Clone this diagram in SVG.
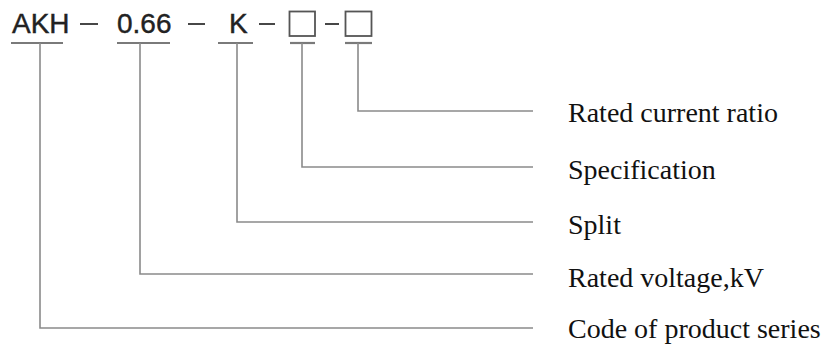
<svg xmlns="http://www.w3.org/2000/svg" width="823" height="345" viewBox="0 0 823 345">
<style>
.code{font-family:"Liberation Sans",Arial,sans-serif;font-size:28px;fill:#222;stroke:#222;stroke-width:0.4}
.lbl{font-family:"Liberation Serif","Times New Roman",serif;font-size:28px;fill:#111}
.ul{stroke:#7a7a7a;stroke-width:2.2;fill:none}
.conn{stroke:#8a8a8a;stroke-width:1.6;fill:none}
.box{stroke:#555;stroke-width:1.8;fill:none}
.dash{stroke:#333;stroke-width:1.8}
</style>
<rect width="823" height="345" fill="#fff"/>
<g id="code">
<text class="code" x="12" y="33">AKH</text>
<line class="dash" x1="80" y1="24" x2="98" y2="24"/>
<text class="code" x="117" y="33">0.66</text>
<line class="dash" x1="188" y1="24" x2="205" y2="24"/>
<text class="code" x="229" y="33">K</text>
<line class="dash" x1="259" y1="24" x2="275" y2="24"/>
<rect class="box" x="289.5" y="11.5" width="25.5" height="24.5"/>
<line class="dash" x1="325" y1="24" x2="339" y2="24"/>
<rect class="box" x="345.5" y="11.5" width="26" height="24.5"/>
</g>
<g id="underlines">
<line class="ul" x1="11" y1="43" x2="63" y2="43"/>
<line class="ul" x1="117" y1="43" x2="170" y2="43"/>
<line class="ul" x1="218" y1="43" x2="253" y2="43"/>
<line class="ul" x1="290" y1="43" x2="315" y2="43"/>
<line class="ul" x1="345" y1="43" x2="372" y2="43"/>
</g>
<g id="connectors">
<polyline class="conn" points="358,43 358,111 533,111"/>
<polyline class="conn" points="302,43 302,167 533,167"/>
<polyline class="conn" points="237,43 237,222 533,222"/>
<polyline class="conn" points="140,43 140,274 533,274"/>
<polyline class="conn" points="40,43 40,328 533,328"/>
</g>
<g id="n-ratio"><text class="lbl" x="568" y="122">Rated current ratio</text></g>
<g id="n-spec"><text class="lbl" x="568" y="179">Specification</text></g>
<g id="n-split"><text class="lbl" x="568" y="234">Split</text></g>
<g id="n-voltage"><text class="lbl" x="568" y="287">Rated voltage,kV</text></g>
<g id="n-code"><text class="lbl" x="568" y="338">Code of product series</text></g>
</svg>
